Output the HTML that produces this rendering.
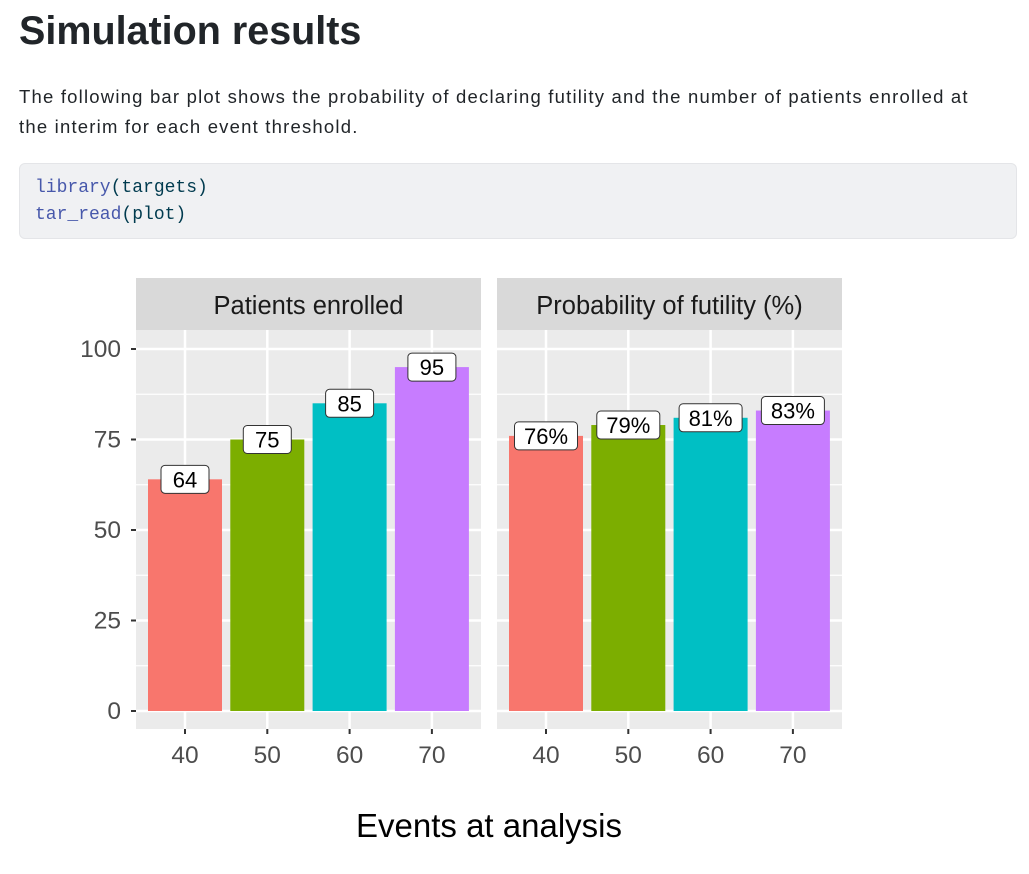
<!DOCTYPE html>
<html><head><meta charset="utf-8"><style>
body{margin:0;background:#fff;font-family:"Liberation Sans",sans-serif;color:#212529;}
h1{position:absolute;left:19px;top:9px;margin:0;font-size:39.5px;font-weight:bold;}
p{position:absolute;left:19px;top:82px;margin:0;font-size:18.5px;letter-spacing:1.2px;line-height:30px;width:1000px;white-space:nowrap;}
.code{position:absolute;left:19px;top:163px;width:998px;height:76px;background:#f0f1f3;border:1px solid #e4e5e8;border-radius:6px;box-sizing:border-box;}
.code pre{margin:0;padding:11px 0 0 15px;font-family:"Liberation Mono",monospace;font-size:18px;line-height:27px;color:#003b4f;}
.fn{color:#4758ab;}
svg{position:absolute;left:0;top:0;}
</style></head><body>
<h1>Simulation results</h1>
<p>The following bar plot shows the probability of declaring futility and the number of patients enrolled at<br>the interim for each event threshold.</p>
<div class="code"><pre><span class="fn">library</span>(targets)
<span class="fn">tar_read</span>(plot)</pre></div>
<svg id="chart" width="1029" height="874"></svg>
<script>
const categories=[40,50,60,70];
const enrolled=[64,75,85,95];
const futility=[76,79,81,83];
const yTicks=[0,25,50,75,100];
const colors=["#F8766D","#7CAE00","#00BFC4","#C77CFF"];
const panelTitles=["Patients enrolled","Probability of futility (%)"];
(function(){
const NS="http://www.w3.org/2000/svg";
const svg=document.getElementById('chart');
function el(t,a,p){const e=document.createElementNS(NS,t);for(const k in a)e.setAttribute(k,a[k]);(p||svg).appendChild(e);return e;}
const y0=711,pxPerUnit=3.62,plotTop=330,plotBottom=729;
function y(v){return y0-v*pxPerUnit;}
const panels=[{x0:136,x1:481,data:enrolled,suffix:""},{x0:497,x1:842,data:futility,suffix:"%"}];
function x(i,p){return p.x0+49+i*82.3;}
panels.forEach((p,pi)=>{
  const g=el('g',{});
  
  
  const strip=el('rect',{x:p.x0,y:278,width:p.x1-p.x0,height:52,fill:'#d9d9d9'},g);
  
  
  const st=el('text',{x:(p.x0+p.x1)/2,y:314,'text-anchor':'middle','font-size':25.5,fill:'#1a1a1a'},g);
  st.textContent=panelTitles[pi];
  
  
  el('rect',{x:p.x0,y:plotTop,width:p.x1-p.x0,height:plotBottom-plotTop,fill:'#ebebeb'},g);
  for(let k=0;k<yTicks.length-1;k++){const v=(yTicks[k]+yTicks[k+1])/2;el('line',{x1:p.x0,x2:p.x1,y1:y(v),y2:y(v),stroke:'#fff','stroke-width':1.2},g);}
  yTicks.forEach(v=>el('line',{x1:p.x0,x2:p.x1,y1:y(v),y2:y(v),stroke:'#fff','stroke-width':2.5},g));
  categories.forEach((c,i)=>{
    el('line',{x1:x(i,p),x2:x(i,p),y1:plotTop,y2:plotBottom,stroke:'#fff','stroke-width':2.5},g);
    el('line',{x1:x(i,p),x2:x(i,p),y1:plotBottom,y2:plotBottom+5,stroke:'#333','stroke-width':2},g);
    const t=el('text',{x:x(i,p),y:763,'text-anchor':'middle','font-size':24.5,fill:'#4d4d4d'},g);
    t.textContent=c;
    
    
  });
  categories.forEach((c,i)=>{
    const v=p.data[i];
    const b=el('rect',{x:x(i,p)-37,y:y(v),width:74,height:y(0)-y(v),fill:colors[i]},g);
    
    
    const txt=v+p.suffix;
    const w=txt.length*15+18;
    const lb=el('rect',{x:x(i,p)-w/2,y:y(v)-14,width:w,height:28,rx:4,fill:'#fff',stroke:'#333','stroke-width':1},g);
    
    
    const lt=el('text',{x:x(i,p),y:y(v)+8,'text-anchor':'middle','font-size':22,fill:'#000'},g);
    lt.textContent=txt;
    
    
  });
});
yTicks.forEach(v=>{
  el('line',{x1:131,x2:136,y1:y(v),y2:y(v),stroke:'#333','stroke-width':2});
  const t=el('text',{x:121,y:y(v)+8,'text-anchor':'end','font-size':24.5,fill:'#4d4d4d'});
  t.textContent=v;
  
  
});
const xt=el('text',{x:489,y:837,'text-anchor':'middle','font-size':33,fill:'#000'});
xt.textContent="Events at analysis";


})();
</script>
</body></html>
